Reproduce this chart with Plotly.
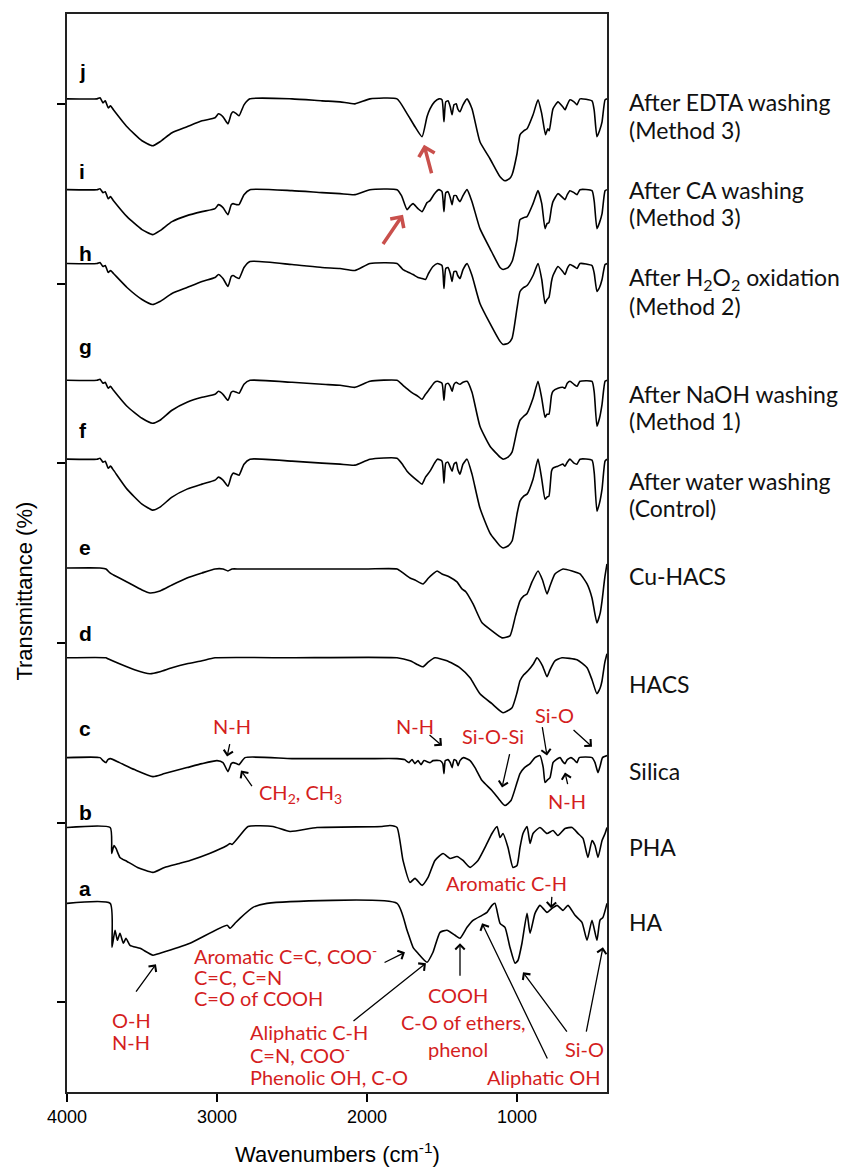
import plotly.graph_objects as go

# ---------------- data ----------------
# relative transmittance (arbitrary units, 0 = level at 4000 cm-1), per spectrum
offsets = {"a": 189, "b": 265, "c": 335, "d": 435, "e": 525,
           "f": 634, "g": 713, "h": 830, "i": 904, "j": 995}

wn_j = [4000, 3800, 3780, 3760, 3745, 3725, 3710, 3690, 3600, 3500, 3430, 3380, 3300, 3200, 3100, 3013, 2990, 2960, 2927, 2905, 2893, 2870, 2853, 2820, 2780, 2500, 2300, 2180, 2080, 1980, 1800, 1740, 1680, 1633, 1600, 1580, 1550, 1520, 1500, 1487, 1475, 1460, 1445, 1433, 1420, 1405, 1395, 1380, 1360, 1333, 1300, 1247, 1180, 1113, 1080, 1050, 1033, 1000, 980, 955, 933, 893, 860, 835, 810, 795, 785, 770, 760, 727, 695, 680, 665, 647, 620, 600, 580, 500, 485, 467, 450, 433, 413, 400]
tr_j = [0, 0, 1, -4, -2, -9, -7, -11, -28, -42, -47, -43, -34, -28, -22, -19, -15, -18, -25, -15, -13, -15, -17, -6, 0, 0, -2, -3, -5, 0, 0, -13, -28, -38, -18, -10, -3, 0, -1, -23, -3, -2, -8, -16, -6, -5, -10, -13, -6, 0, -10, -43, -60, -78, -82, -80, -76, -55, -36, -32, -30, -16, -1, -15, -36, -30, -32, -18, -10, -3, -8, -11, -6, -1, -3, -6, 0, -2, -12, -38, -32, -23, -1, 0]

wn_i = [4000, 3800, 3780, 3760, 3745, 3725, 3710, 3690, 3600, 3500, 3430, 3380, 3300, 3200, 3100, 3013, 2990, 2960, 2927, 2905, 2893, 2870, 2853, 2820, 2780, 2500, 2300, 2180, 2080, 1980, 1800, 1770, 1733, 1710, 1693, 1660, 1633, 1600, 1580, 1550, 1520, 1500, 1487, 1475, 1460, 1445, 1433, 1420, 1405, 1395, 1380, 1360, 1333, 1300, 1247, 1180, 1113, 1093, 1060, 1033, 1000, 980, 955, 933, 893, 860, 835, 813, 800, 787, 770, 760, 727, 695, 680, 665, 647, 620, 600, 580, 500, 485, 467, 450, 433, 413, 400]
tr_i = [0, 0, 1, -3, -2, -9, -7, -11, -27, -40, -45, -41, -32, -26, -22, -19, -15, -18, -25, -15, -14, -15, -15, -5, 0, -1, -3, -4, -5, 0, 0, -6, -20, -16, -14, -19, -22, -13, -11, -4, 0, -2, -22, -3, -2, -8, -15, -6, -6, -9, -12, -6, 0, -12, -39, -59, -78, -80, -78, -72, -50, -30, -28, -27, -14, -1, -14, -39, -34, -33, -18, -12, -4, -8, -10, -5, -1, -3, -5, 0, -1, -12, -39, -33, -24, -1, 0]

wn_h = [4000, 3800, 3780, 3760, 3745, 3725, 3710, 3690, 3600, 3500, 3430, 3380, 3300, 3200, 3100, 3013, 2990, 2960, 2927, 2905, 2893, 2870, 2853, 2820, 2780, 2500, 2300, 2180, 2080, 1980, 1800, 1760, 1720, 1693, 1660, 1633, 1610, 1590, 1560, 1530, 1500, 1487, 1475, 1460, 1445, 1433, 1420, 1405, 1395, 1380, 1360, 1333, 1300, 1247, 1180, 1113, 1093, 1060, 1033, 1000, 980, 955, 933, 893, 860, 835, 813, 800, 787, 770, 760, 727, 695, 680, 665, 647, 620, 600, 580, 500, 485, 467, 450, 433, 413, 400]
tr_h = [0, 0, 1, -3, -2, -9, -7, -10, -24, -36, -41, -38, -30, -24, -18, -14, -11, -15, -23, -13, -12, -14, -15, -4, 2, -1, -4, -5, -7, 0, 0, -6, -9, -11, -14, -15, -16, -10, -3, 0, -2, -25, -5, -4, -10, -18, -8, -8, -12, -15, -6, 0, -12, -40, -60, -78, -81, -80, -75, -45, -28, -24, -22, -12, 0, -16, -40, -36, -34, -18, -12, -3, -8, -11, -5, -1, -3, -5, 0, -2, -10, -28, -24, -16, -1, 0]

wn_g = [4000, 3800, 3780, 3760, 3745, 3725, 3710, 3690, 3600, 3500, 3430, 3380, 3300, 3200, 3100, 3013, 2990, 2960, 2927, 2905, 2893, 2870, 2853, 2820, 2780, 2500, 2300, 2180, 2080, 1980, 1800, 1760, 1720, 1693, 1660, 1633, 1610, 1580, 1550, 1530, 1500, 1487, 1475, 1460, 1445, 1433, 1420, 1405, 1395, 1380, 1360, 1333, 1300, 1247, 1180, 1113, 1093, 1060, 1033, 1000, 980, 955, 933, 893, 860, 835, 813, 800, 787, 770, 760, 727, 695, 680, 665, 647, 620, 600, 580, 500, 485, 467, 450, 433, 413, 400]
tr_g = [0, 0, 1, -3, -2, -8, -6, -10, -26, -38, -43, -40, -30, -22, -17, -14, -11, -14, -20, -12, -11, -12, -13, -4, 0, -2, -4, -5, -7, -1, 0, -5, -10, -13, -16, -19, -14, -8, -2, -1, -3, -20, -4, -3, -6, -11, -4, -2, -3, -4, -2, -1, -12, -46, -66, -77, -79, -77, -72, -50, -40, -36, -33, -18, -1, -18, -37, -34, -34, -15, -11, -8, -7, -8, -3, -1, -4, -6, -1, -1, -12, -46, -38, -24, -1, 0]

wn_f = [4000, 3800, 3780, 3760, 3745, 3725, 3710, 3690, 3600, 3500, 3430, 3380, 3300, 3200, 3100, 3013, 2990, 2960, 2927, 2905, 2893, 2870, 2853, 2820, 2780, 2500, 2300, 2180, 2080, 1980, 1800, 1760, 1733, 1700, 1660, 1633, 1610, 1580, 1550, 1530, 1500, 1487, 1475, 1460, 1445, 1433, 1420, 1405, 1395, 1380, 1360, 1333, 1300, 1247, 1180, 1113, 1093, 1060, 1033, 1000, 980, 955, 933, 893, 860, 835, 813, 800, 787, 770, 760, 727, 695, 680, 665, 647, 620, 600, 580, 500, 485, 467, 450, 433, 413, 400]
tr_f = [0, 0, 1, -3, -2, -9, -7, -11, -30, -45, -51, -48, -38, -30, -25, -21, -18, -21, -27, -17, -14, -15, -16, -5, 0, -2, -4, -5, -6, 0, 1, -6, -12, -17, -22, -25, -18, -12, -4, 0, -2, -24, -4, -3, -8, -12, -5, -3, -10, -15, -5, 0, -15, -49, -74, -87, -89, -87, -82, -55, -42, -37, -35, -20, 0, -20, -40, -38, -37, -12, -9, -7, -5, -7, -3, 0, -4, -5, 0, -1, -14, -52, -44, -30, -2, 0]

wn_e = [4000, 3780, 3740, 3713, 3690, 3600, 3500, 3447, 3380, 3300, 3200, 3100, 3013, 2960, 2927, 2900, 2850, 2500, 2000, 1800, 1760, 1713, 1680, 1627, 1590, 1560, 1533, 1500, 1450, 1400, 1367, 1340, 1293, 1233, 1167, 1100, 1047, 1010, 980, 955, 933, 900, 860, 830, 800, 780, 747, 693, 633, 580, 533, 500, 467, 445, 433, 415, 400]
tr_e = [0, 0, -1, -5, -7, -14, -22, -25, -23, -17, -10, -5, -1, -1, -3, -1, -1, -1, -1, -1, -5, -10, -12, -16, -10, -6, -3, -6, -9, -14, -21, -24, -36, -55, -63, -70, -68, -48, -33, -28, -26, -14, -3, -12, -26, -18, -6, -1, -3, -6, -16, -30, -55, -45, -33, -10, 4]

wn_d = [4000, 3740, 3727, 3650, 3550, 3447, 3380, 3300, 3200, 3100, 3013, 2500, 1800, 1713, 1660, 1627, 1590, 1547, 1467, 1380, 1313, 1247, 1167, 1093, 1033, 1000, 980, 955, 927, 890, 867, 830, 800, 780, 747, 700, 600, 533, 500, 467, 445, 433, 415, 400]
tr_d = [0, 0, -1, -6, -12, -16, -14, -10, -6, -3, 0, 0, 0, -3, -7, -9, -4, 0, -3, -10, -20, -36, -46, -55, -50, -35, -23, -17, -13, -6, 0, -8, -19, -12, -3, 0, -2, -10, -22, -36, -30, -23, -5, 4]

wn_c = [4000, 3780, 3760, 3740, 3727, 3710, 3650, 3550, 3427, 3350, 3200, 3100, 3000, 2960, 2927, 2905, 2893, 2870, 2853, 2813, 2500, 2000, 1800, 1750, 1720, 1700, 1680, 1660, 1640, 1620, 1580, 1560, 1513, 1495, 1487, 1478, 1460, 1445, 1433, 1420, 1405, 1393, 1380, 1357, 1313, 1280, 1233, 1167, 1113, 1080, 1040, 1000, 980, 950, 913, 880, 847, 825, 813, 795, 780, 760, 747, 713, 695, 680, 665, 640, 620, 600, 585, 500, 480, 460, 445, 430, 400]
tr_c = [0, 0, -3, -5, -2, -1, -5, -12, -19, -16, -10, -6, -3, -5, -14, -6, -5, -6, -7, 0, -1, -1, -1, -2, -5, -2, -6, -3, -7, -3, -5, -3, -3, -6, -16, -3, -2, -5, -10, -2, -3, -8, -3, 0, -3, -10, -23, -33, -43, -48, -43, -25, -16, -10, -6, 0, 2, -10, -25, -22, -20, -5, -3, 0, -4, -6, -2, 0, -2, -5, 0, 0, -5, -15, -8, 0, 2]

wn_b = [4000, 3712, 3702, 3687, 3673, 3647, 3600, 3530, 3427, 3350, 3250, 3180, 3050, 2933, 2913, 2900, 2847, 2793, 2627, 2513, 2333, 1900, 1847, 1800, 1760, 1713, 1680, 1633, 1593, 1547, 1493, 1447, 1400, 1360, 1313, 1260, 1200, 1167, 1133, 1113, 1093, 1060, 1027, 1000, 980, 960, 933, 913, 893, 847, 800, 760, 727, 680, 633, 593, 560, 527, 500, 480, 460, 433, 413, 400]
tr_b = [0, 0, -26, -18, -21, -30, -34, -40, -45, -40, -36, -33, -26, -18, -16, -17, -8, 1, 1, -4, 0, 1, 2, 0, -33, -55, -51, -58, -50, -33, -26, -31, -29, -33, -40, -33, -16, -6, 1, -10, -6, -20, -40, -38, -20, -6, 1, -16, -6, 0, -6, -3, -8, -1, 0, -6, -11, -30, -13, -18, -30, -13, -6, 0]

wn_a = [4000, 3712, 3700, 3680, 3664, 3647, 3624, 3607, 3580, 3513, 3427, 3380, 3180, 2933, 2913, 2880, 2847, 2760, 2667, 1800, 1733, 1693, 1660, 1600, 1560, 1513, 1467, 1413, 1380, 1333, 1293, 1233, 1200, 1167, 1147, 1113, 1080, 1047, 1013, 993, 967, 933, 913, 880, 847, 800, 767, 733, 693, 660, 613, 567, 533, 500, 467, 447, 427, 400]
tr_a = [0, 0, -44, -27, -37, -30, -40, -35, -42, -45, -52, -50, -40, -22, -25, -20, -15, -4, 0, 0, -27, -44, -50, -59, -49, -29, -27, -32, -35, -24, -17, -12, -9, -2, 0, -20, -24, -44, -60, -57, -40, -10, -30, -10, -2, -9, -5, -2, -7, -2, -12, -19, -37, -17, -37, -17, -14, 0]

spectra = {"a": (wn_a, tr_a), "b": (wn_b, tr_b), "c": (wn_c, tr_c), "d": (wn_d, tr_d),
           "e": (wn_e, tr_e), "f": (wn_f, tr_f), "g": (wn_g, tr_g), "h": (wn_h, tr_h),
           "i": (wn_i, tr_i), "j": (wn_j, tr_j)}

x_ticks = [4000, 3000, 2000, 1000]
y_ticks = [90, 270, 450, 630, 810, 990]

# ---------------- figure ----------------
fig = go.Figure()
for key in "abcdefghij":
    wn, tr = spectra[key]
    fig.add_trace(go.Scatter(x=wn, y=[offsets[key] + v for v in tr], mode="lines",
                             line=dict(color="black", width=1.6, shape="spline",
                                       smoothing=0.5),
                             showlegend=False, hoverinfo="skip"))

ann = []
SANS = "Liberation Sans"
CAL = "Lato"
RED = "#d41e1e"

# letter labels
letter_y = {"j": 1022, "i": 922, "h": 840, "g": 747, "f": 663, "e": 546,
            "d": 459, "c": 364, "b": 280, "a": 204}
for k, yv in letter_y.items():
    ann.append(dict(x=3933, y=yv, xref="x", yref="y", text="<b>%s</b>" % k, showarrow=False,
                    xanchor="left", yanchor="middle",
                    font=dict(family=SANS, size=21, color="black")))

# right-hand sample names
right_labels = [("After EDTA washing", 992), ("(Method 3)", 964),
                ("After CA washing", 904), ("(Method 3)", 877),
                ("After H<sub>2</sub>O<sub>2</sub> oxidation", 815), ("(Method 2)", 787),
                ("After NaOH washing", 699), ("(Method 1)", 672),
                ("After water washing", 612), ("(Control)", 585),
                ("Cu-HACS", 517), ("HACS", 409), ("Silica", 322), ("PHA", 245), ("HA", 170)]
for t, yv in right_labels:
    ann.append(dict(x=1.037, y=yv, xref="paper", yref="y", text=t, showarrow=False,
                    xanchor="left", yanchor="middle",
                    font=dict(family=CAL, size=23, color="#111111")))

# red text labels: (text, x, y, anchor)
red_texts = [
    ("N-H", 2900, 367, "center"),
    ("CH<sub>2</sub>, CH<sub>3</sub>", 2733, 299, "left"),
    ("N-H", 1680, 367, "center"),
    ("Si-O-Si", 1160, 357, "center"),
    ("Si-O", 747, 378, "center"),
    ("N-H", 667, 292, "center"),
    ("O-H", 3713, 72, "left"),
    ("N-H", 3713, 50, "left"),
    ("Aromatic C=C, COO<sup>-</sup>", 3167, 137, "left"),
    ("C=C, C=N", 3167, 115, "left"),
    ("C=O of COOH", 3167, 94, "left"),
    ("Aliphatic C-H", 2793, 60, "left"),
    ("C=N, COO<sup>-</sup>", 2793, 38, "left"),
    ("Phenolic OH, C-O", 2793, 15, "left"),
    ("COOH", 1393, 97, "center"),
    ("C-O of ethers,", 1360, 70, "center"),
    ("phenol", 1393, 43, "center"),
    ("Aliphatic OH", 1213, 15, "left"),
    ("Si-O", 553, 43, "center"),
    ("Aromatic C-H", 1073, 209, "center"),
]
for t, xv, yv, anc in red_texts:
    ann.append(dict(x=xv, y=yv, xref="x", yref="y", text=t, showarrow=False,
                    xanchor=anc, yanchor="middle",
                    font=dict(family=CAL, size=20, color=RED)))

# black arrows: (tail_x, tail_y, head_x, head_y)
black_arrows = [
    (2913, 350, 2933, 336),
    (2760, 305, 2840, 322),
    (1593, 359, 1500, 347),
    (1047, 340, 1100, 305),
    (833, 367, 800, 337),
    (633, 364, 500, 346),
    (660, 307, 680, 320),
    (3547, 99, 3407, 128),
    (1893, 129, 1747, 140),
    (2100, 70, 1607, 129),
    (1380, 115, 1380, 149),
    (793, 32, 1233, 169),
    (660, 59, 960, 120),
    (540, 59, 427, 145),
    (767, 197, 773, 184),
]
for tx, ty, hx, hy in black_arrows:
    ann.append(dict(x=hx, y=hy, ax=tx, ay=ty, xref="x", yref="y", axref="x", ayref="y",
                    text="", showarrow=True, arrowhead=4, arrowsize=1.4, arrowwidth=1.3,
                    arrowcolor="black", standoff=0, startstandoff=0))

# red highlight arrows
red_arrows = [(1567, 919, 1620, 949), (1900, 848, 1760, 879)]
for tx, ty, hx, hy in red_arrows:
    ann.append(dict(x=hx, y=hy, ax=tx, ay=ty, xref="x", yref="y", axref="x", ayref="y",
                    text="", showarrow=True, arrowhead=4, arrowsize=0.9, arrowwidth=3.5,
                    arrowcolor="#c9504c", standoff=0, startstandoff=0))

# axis titles
ann.append(dict(x=0.5, y=-0.057, xref="paper", yref="paper",
                text="Wavenumbers (cm<sup>-1</sup>)", showarrow=False,
                xanchor="center", yanchor="middle",
                font=dict(family=SANS, size=22, color="black")))
ann.append(dict(x=-0.078, y=0.465, xref="paper", yref="paper",
                text="Transmittance (%)", showarrow=False, textangle=-90,
                xanchor="center", yanchor="middle",
                font=dict(family=SANS, size=22, color="black")))

fig.update_layout(
    width=847, height=1174,
    margin=dict(l=67, r=240, t=12, b=82),
    plot_bgcolor="white", paper_bgcolor="white",
    annotations=ann,
    xaxis=dict(range=[4000, 400], tickvals=x_ticks, ticks="outside", ticklen=8,
               tickwidth=1.5, tickcolor="black", showline=True, linecolor="#222222",
               linewidth=1.5, mirror=True, showgrid=False, zeroline=False,
               tickfont=dict(family=SANS, size=18, color="black")),
    yaxis=dict(range=[0, 1080], tickvals=y_ticks, showticklabels=False, ticks="outside",
               ticklen=8, tickwidth=1.5, tickcolor="black", showline=True,
               linecolor="#222222", linewidth=1.5, mirror=True, showgrid=False,
               zeroline=False),
)

fig.write_html("out.html")
